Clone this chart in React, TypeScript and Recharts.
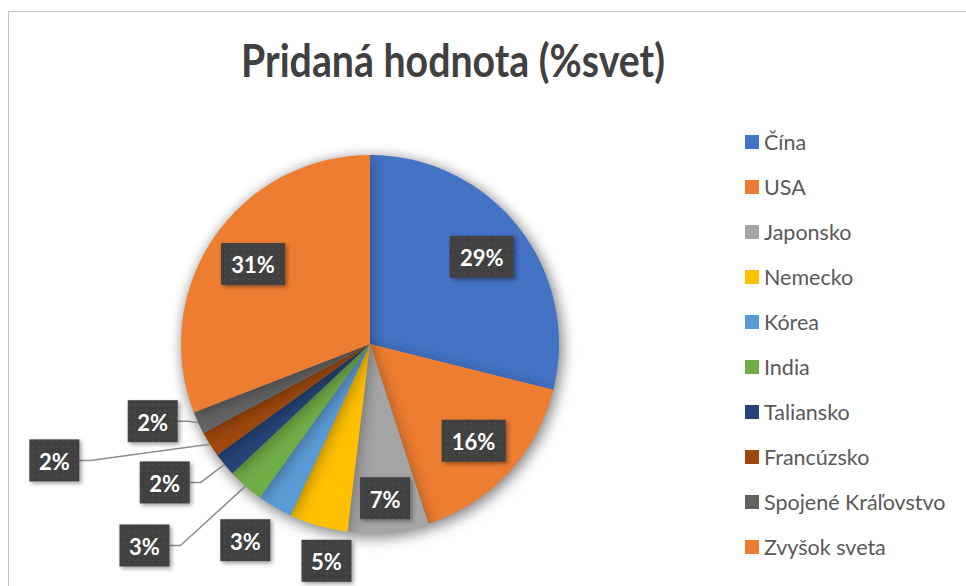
import { Cell, Legend, Pie, PieChart } from "recharts"

const countries = [
  "Čína",
  "USA",
  "Japonsko",
  "Nemecko",
  "Kórea",
  "India",
  "Taliansko",
  "Francúzsko",
  "Spojené Kráľovstvo",
  "Zvyšok sveta",
]
const shares = [28.9, 16.1, 6.9, 5.0, 3.0, 3.1, 2.0, 2.2, 1.9, 30.9]
const colors = [
  "#4472C4",
  "#ED7D31",
  "#A5A5A5",
  "#FFC000",
  "#5B9BD5",
  "#70AD47",
  "#264478",
  "#9E480E",
  "#636363",
  "#ED7D31",
]
const title = "Pridaná hodnota (%svet)"

// where each data label box sits: distance from the centre (share of the radius),
// turn away from the slice middle in degrees (clockwise), and whether it gets a leader line
const labelSpots = [
  { k: 0.75, turn: 0, leader: false },
  { k: 0.75, turn: 0, leader: false },
  { k: 0.82, turn: 0, leader: false },
  { k: 1.17, turn: -4.5, leader: false },
  { k: 1.23, turn: 2.2, leader: false },
  { k: 1.6, turn: 7, leader: true },
  { k: 1.31, turn: 5.6, leader: true },
  { k: 1.78, turn: 11.8, leader: true },
  { k: 1.22, turn: 5.1, leader: true },
  { k: 0.75, turn: 0, leader: false },
]

const chartData = countries.map((name, i) => ({ name, value: shares[i] }))

const RAD = Math.PI / 180

function DataLabel(props: any) {
  const { cx, cy, midAngle, outerRadius, percent, index } = props
  const spot = labelSpots[index]
  const text = `${Math.round(percent * 100)}%`
  const w = text.length > 2 ? 64 : 50
  const h = 42
  const a = (midAngle - spot.turn) * RAD
  const bx = cx + outerRadius * spot.k * Math.cos(a)
  const by = cy - outerRadius * spot.k * Math.sin(a)

  let leader = null
  if (spot.leader) {
    const m = midAngle * RAD
    const ex = cx + outerRadius * Math.cos(m)
    const ey = cy - outerRadius * Math.sin(m)
    const right = bx + w / 2
    leader = (
      <polyline
        points={`${ex},${ey} ${right + 11},${by} ${right},${by}`}
        fill="none"
        stroke="#8c8c8c"
        strokeWidth={1.5}
      />
    )
  }

  return (
    <g>
      {leader}
      <rect
        x={bx - w / 2}
        y={by - h / 2}
        width={w}
        height={h}
        fill="url(#boxDots)"
        filter="url(#boxShadow)"
      />
      <text
        x={bx}
        y={by + 1}
        textAnchor="middle"
        dominantBaseline="central"
        fill="#ffffff"
        fontFamily="Lato, sans-serif"
        fontWeight={700}
        fontSize={22}
      >
        {text}
      </text>
    </g>
  )
}

function LegendList({ payload }: any) {
  // both pies report their slices; keep one entry per country, in data order
  const seen = new Set<string>()
  const items = (payload ?? [])
    .filter((e: any) => {
      if (seen.has(e.value)) return false
      seen.add(e.value)
      return true
    })
    .sort((a: any, b: any) => countries.indexOf(a.value) - countries.indexOf(b.value))
  return (
    <ul style={{ listStyle: "none", margin: 0, padding: 0 }}>
      {items.map((entry: any) => {
        const i = countries.indexOf(entry.value)
        return (
          <li
            key={entry.value}
            style={{ height: 45, display: "flex", alignItems: "center" }}
          >
            <span
              style={{
                width: 14,
                height: 14,
                background: colors[i] ?? entry.color,
                marginRight: 5,
                flex: "none",
              }}
            />
            <span
              style={{
                fontFamily: "Lato, sans-serif",
                fontSize: 21.5,
                color: "#595959",
                whiteSpace: "nowrap",
              }}
            >
              {entry.value}
            </span>
          </li>
        )
      })}
    </ul>
  )
}

export default function App() {
  return (
    <div
      style={{
        position: "absolute",
        left: 0,
        top: 0,
        width: 966,
        height: 586,
        overflow: "hidden",
        background: "#ffffff",
      }}
    >
      <style>{`.pie-body { filter: drop-shadow(2px 3px 7px rgba(0,0,0,0.3)); }`}</style>
      <svg width={0} height={0} style={{ position: "absolute" }}>
        <defs>
          <pattern id="boxDots" width={6} height={6} patternUnits="userSpaceOnUse">
            <rect width={6} height={6} fill="#404040" />
            <circle cx={3} cy={3} r={0.8} fill="#555555" />
          </pattern>
          <filter id="boxShadow" x="-30%" y="-30%" width="160%" height="160%">
            <feDropShadow dx={2} dy={2} stdDeviation={2} floodColor="#000" floodOpacity={0.4} />
          </filter>
        </defs>
      </svg>

      <div
        style={{
          position: "absolute",
          left: 8,
          top: 11,
          width: 1000,
          height: 1000,
          borderLeft: "1px solid #c4c4c4",
          borderTop: "1px solid #c4c4c4",
        }}
      />

      <svg
        width={966}
        height={110}
        style={{ position: "absolute", left: 0, top: 0 }}
      >
        <text
          x={453}
          y={77}
          textAnchor="middle"
          fill="#404040"
          fontFamily="Lato, sans-serif"
          fontWeight={700}
          fontSize={46}
          textLength={424}
          lengthAdjust="spacingAndGlyphs"
        >
          {title}
        </text>
      </svg>

      <div style={{ position: "absolute", left: 0, top: 0 }}>
        <PieChart width={966} height={586} margin={{ top: 0, right: 0, bottom: 0, left: 0 }}>
          <Pie
            data={chartData}
            dataKey="value"
            nameKey="name"
            cx={370}
            cy={344}
            outerRadius={189}
            startAngle={90}
            endAngle={-270}
            stroke="none"
            className="pie-body"
            isAnimationActive={false}
          >
            {chartData.map((d, i) => (
              <Cell key={d.name} fill={colors[i]} />
            ))}
          </Pie>
          <Pie
            data={chartData}
            dataKey="value"
            nameKey="name"
            cx={370}
            cy={344}
            outerRadius={189}
            startAngle={90}
            endAngle={-270}
            fill="none"
            stroke="none"
            legendType="none"
            label={DataLabel}
            labelLine={false}
            isAnimationActive={false}
          />
          <Legend
            layout="vertical"
            align="right"
            verticalAlign="middle"
            content={LegendList}
            wrapperStyle={{ left: 745, top: 119, width: 215 }}
          />
        </PieChart>
      </div>
    </div>
  )
}
